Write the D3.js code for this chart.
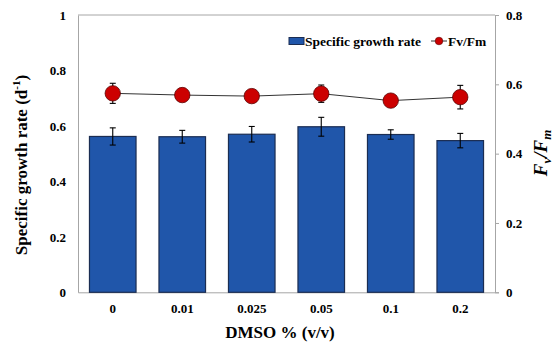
<!DOCTYPE html>
<html>
<head>
<meta charset="utf-8">
<script src="https://cdn.jsdelivr.net/npm/d3@7"></script>
<style>
  body { margin: 0; background: #fff; }
</style>
</head>
<body>
<svg id="chart" width="556" height="348"></svg>
<script>
// DMSO concentrations (% v/v)
const categories = ["0", "0.01", "0.025", "0.05", "0.1", "0.2"];
// Specific growth rate (d^-1) and its error
const growthRate = [0.562, 0.561, 0.570, 0.597, 0.569, 0.547];
const growthErr  = [0.031, 0.023, 0.028, 0.034, 0.017, 0.026];
// Fv/Fm and its error
const fvfm    = [0.574, 0.569, 0.566, 0.573, 0.553, 0.563];
const fvfmErr = [0.029, 0.008, 0.008, 0.025, 0.008, 0.034];
// Axis ticks
const leftTicks  = [0, 0.2, 0.4, 0.6, 0.8, 1];
const rightTicks = [0, 0.2, 0.4, 0.6, 0.8];

const serif = "'Liberation Serif', 'Times New Roman', Times, serif";
const svg = d3.select("#chart");
const m = { left: 78, right: 495, top: 15, bottom: 292.3 };

const x = d3.scaleBand().domain(categories).range([m.left, m.right]).paddingInner(0.33).paddingOuter(0.165);
const yL = d3.scaleLinear().domain([0, 1]).range([m.bottom, m.top]);
const yR = d3.scaleLinear().domain([0, 0.8]).range([m.bottom, m.top]);

const axisColor = "#a6a6a6";

// plot frame: top edge
svg.append("line").attr("x1", m.left).attr("x2", m.right).attr("y1", m.top).attr("y2", m.top)
  .attr("stroke", axisColor).attr("stroke-width", 1);

// left axis (no tick marks)
const gL = svg.append("g").attr("transform", `translate(${m.left},0)`)
  .call(d3.axisLeft(yL).tickValues(leftTicks).tickSize(0).tickPadding(12).tickFormat(d3.format("")));
gL.select(".domain").attr("stroke", axisColor);

// right axis
const gR = svg.append("g").attr("transform", `translate(${m.right},0)`)
  .call(d3.axisRight(yR).tickValues(rightTicks).tickSize(4).tickPadding(7).tickFormat(d3.format("")));
gR.select(".domain").attr("stroke", axisColor);
gR.selectAll(".tick line").attr("stroke", axisColor);

// bottom axis
const gB = svg.append("g").attr("transform", `translate(0,${m.bottom})`)
  .call(d3.axisBottom(x).tickSize(0).tickPadding(11));
gB.select(".domain").attr("stroke", axisColor);

[gL, gR, gB].forEach(g => g.attr("font-family", serif).attr("font-size", 13).attr("font-weight", "bold"));

// bars
svg.append("g").selectAll("rect").data(categories).join("rect")
  .attr("x", d => x(d))
  .attr("width", x.bandwidth())
  .attr("y", (d, i) => yL(growthRate[i]))
  .attr("height", (d, i) => yL(0) - yL(growthRate[i]))
  .attr("fill", "#2056aa")
  .attr("stroke", "#1b2d52")
  .attr("stroke-width", 1.2);

// bar error bars
const eb = svg.append("g").attr("stroke", "#000").attr("stroke-width", 1.1);
categories.forEach((c, i) => {
  const cx = x(c) + x.bandwidth() / 2;
  const y1 = yL(growthRate[i] + growthErr[i]), y2 = yL(growthRate[i] - growthErr[i]);
  eb.append("line").attr("x1", cx).attr("x2", cx).attr("y1", y1).attr("y2", y2);
  eb.append("line").attr("x1", cx - 3).attr("x2", cx + 3).attr("y1", y1).attr("y2", y1);
  eb.append("line").attr("x1", cx - 3).attr("x2", cx + 3).attr("y1", y2).attr("y2", y2);
});

// Fv/Fm line
const cxOf = (c) => x(c) + x.bandwidth() / 2;
svg.append("path")
  .datum(categories.map((c, i) => [cxOf(c), yR(fvfm[i])]))
  .attr("d", d3.line())
  .attr("fill", "none").attr("stroke", "#333").attr("stroke-width", 1);

// Fv/Fm error bars
const ep = svg.append("g").attr("stroke", "#000").attr("stroke-width", 1.1);
categories.forEach((c, i) => {
  const cx = cxOf(c);
  const y1 = yR(fvfm[i] + fvfmErr[i]), y2 = yR(fvfm[i] - fvfmErr[i]);
  ep.append("line").attr("x1", cx).attr("x2", cx).attr("y1", y1).attr("y2", y2);
  ep.append("line").attr("x1", cx - 3).attr("x2", cx + 3).attr("y1", y1).attr("y2", y1);
  ep.append("line").attr("x1", cx - 3).attr("x2", cx + 3).attr("y1", y2).attr("y2", y2);
});

// Fv/Fm markers
svg.append("g").selectAll("circle").data(categories).join("circle")
  .attr("cx", d => cxOf(d))
  .attr("cy", (d, i) => yR(fvfm[i]))
  .attr("r", 7.7)
  .attr("fill", "#cc0000")
  .attr("stroke", "#5a0000")
  .attr("stroke-width", 0.8);

// legend
const lg = svg.append("g").attr("font-family", serif).attr("font-weight", "bold").attr("font-size", 13.5);
lg.append("rect").attr("x", 289).attr("y", 37.5).attr("width", 15).attr("height", 7)
  .attr("fill", "#2056aa").attr("stroke", "#1b2d52").attr("stroke-width", 1);
lg.append("text").attr("x", 305).attr("y", 45.5).text("Specific growth rate");
lg.append("line").attr("x1", 431).attr("x2", 447).attr("y1", 41).attr("y2", 41).attr("stroke", "#333");
lg.append("circle").attr("cx", 439).attr("cy", 41).attr("r", 3.8).attr("fill", "#cc0000").attr("stroke", "#5a0000").attr("stroke-width", 0.6);
lg.append("text").attr("x", 448).attr("y", 45.5).text("Fv/Fm");

// axis titles
const titles = svg.append("g").attr("font-family", serif).attr("font-weight", "bold");
const yt = titles.append("text").attr("transform", "translate(27,165) rotate(-90)")
  .attr("text-anchor", "middle").attr("font-size", 17);
yt.append("tspan").text("Specific growth rate (d");
yt.append("tspan").attr("dy", -7).attr("font-size", 11).text("-1");
yt.append("tspan").attr("dy", 7).text(")");

titles.append("text").attr("x", 280).attr("y", 338).attr("text-anchor", "middle")
  .attr("font-size", 17).text("DMSO % (v/v)");

const rt = titles.append("text").attr("transform", "translate(547,153) rotate(-90)")
  .attr("text-anchor", "middle").attr("font-size", 19).attr("font-style", "italic");
rt.append("tspan").text("F");
rt.append("tspan").attr("dy", 4).attr("font-size", 13).text("v");
rt.append("tspan").attr("dy", -4).text("/F");
rt.append("tspan").attr("dy", 4).attr("font-size", 13).text("m");
</script>
</body>
</html>
